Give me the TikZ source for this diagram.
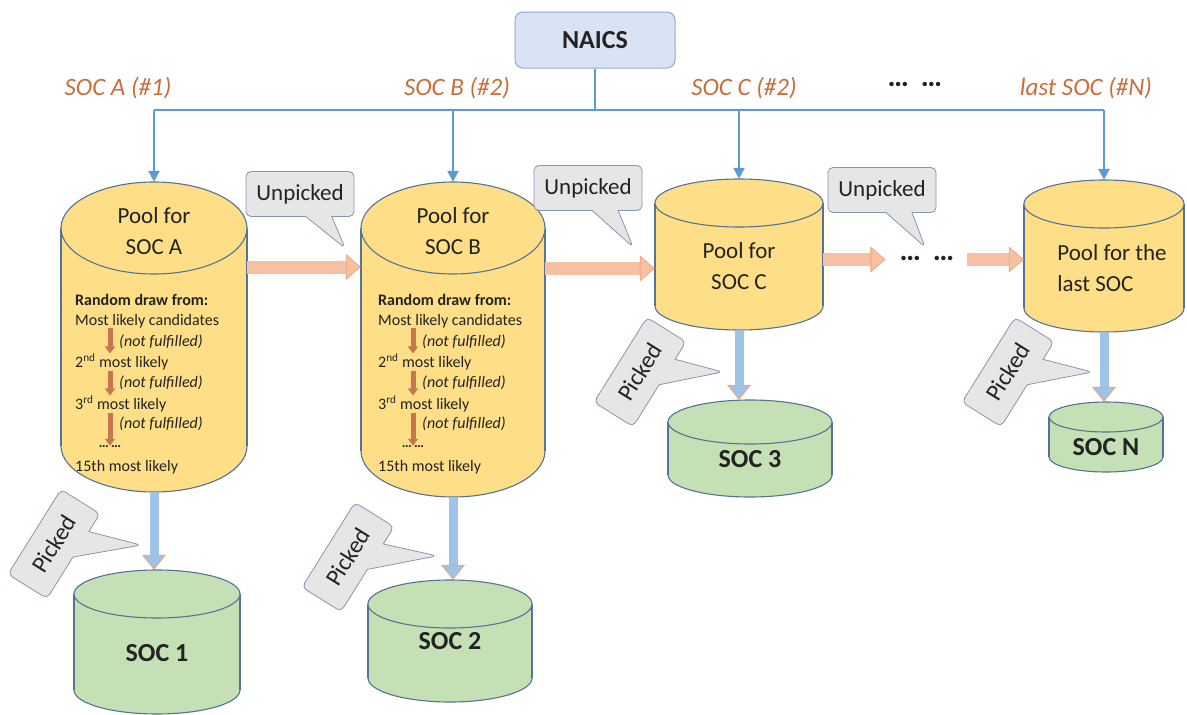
\documentclass[tikz,border=0pt]{standalone}
\usepackage{fontspec}
\setmainfont{Carlito}
\usetikzlibrary{arrows.meta,shapes.callouts}

\definecolor{busblue}{RGB}{91,155,213}
\definecolor{drumedge}{RGB}{84,115,150}
\definecolor{poolyellow}{RGB}{254,223,135}
\definecolor{socgreen}{RGB}{197,224,180}
\definecolor{calloutgray}{RGB}{231,230,230}
\definecolor{calloutedge}{RGB}{132,151,176}
\definecolor{naicsfill}{RGB}{218,227,243}
\definecolor{naicsedge}{RGB}{143,170,220}
\definecolor{peach}{RGB}{248,192,162}
\definecolor{peachedge}{RGB}{240,165,125}
\definecolor{pickblue}{RGB}{157,195,230}
\definecolor{socorange}{RGB}{200,110,60}
\definecolor{stepbrown}{RGB}{200,118,78}
\definecolor{textdark}{RGB}{35,35,35}

\tikzset{
  drumline/.style={draw=drumedge, line width=1.1pt},
  drumbox/.style={rectangle, inner sep=0pt},
  busline/.style={draw=busblue, line width=2.5pt},
  busarrow/.style={busline, -{Triangle[width=11pt, length=11pt]}},
  pickarrow/.style={line width=9pt, draw=pickblue,
    -{Triangle[width=24pt, length=15pt, line width=1pt, color=peachedge, fill=pickblue]}},
  unpickarrow/.style={line width=13pt, draw=peach,
    -{Triangle[width=26pt, length=15pt, line width=0.8pt, color=peachedge, fill=peach]}},
  steparrow/.style={line width=5pt, draw=stepbrown, -{Triangle[width=10pt, length=7pt]}},
  naicsbox/.style={rectangle, rounded corners=8pt, draw=naicsedge, fill=naicsfill, line width=1pt,
    minimum width=160pt, minimum height=56pt, font=\fontsize{26}{28}\selectfont\bfseries, text=textdark},
  soclabel/.style={font=\fontsize{25}{28}\selectfont\itshape, text=socorange},
  dotsline/.style={font=\fontsize{30}{30}\selectfont\bfseries, text=textdark, inner sep=0pt},
  pooltext/.style={font=\fontsize{23}{31}\selectfont, text=textdark, align=center},
  soctext/.style={font=\fontsize{26}{28}\selectfont\bfseries, text=textdark},
  listhead/.style={anchor=west, inner sep=0pt, font=\fontsize{16}{18}\selectfont\bfseries, text=textdark},
  listitem/.style={anchor=west, inner sep=0pt, font=\fontsize{16}{18}\selectfont, text=textdark},
  notmet/.style={anchor=west, inner sep=0pt, font=\fontsize{16}{18}\selectfont\itshape, text=textdark},
  callbox/.style={rectangle callout, draw=calloutedge, fill=calloutgray, line width=0.8pt,
    rounded corners=5pt, text=textdark},
  unpicked/.style={callbox, minimum width=108pt, minimum height=45pt, callout pointer width=26pt,
    font=\fontsize{23}{25}\selectfont},
  picked/.style={callbox, rotate=58, minimum width=100pt, minimum height=46pt, callout pointer width=30pt,
    font=\fontsize{24}{26}\selectfont}
}

% cylinder: name, centre x, top, bottom, half width, ellipse radius, fill
\newcommand{\drum}[7]{%
  \filldraw[drumline, fill=#7] (#2,{#4-#6}) ellipse[x radius=#5pt, y radius=#6pt];
  \fill[#7] ({#2-#5},{#3+#6}) rectangle ({#2+#5},{#4-#6});
  \draw[drumline] ({#2-#5},{#3+#6}) -- ({#2-#5},{#4-#6}) ({#2+#5},{#3+#6}) -- ({#2+#5},{#4-#6});
  \filldraw[drumline, fill=#7] (#2,{#3+#6}) ellipse[x radius=#5pt, y radius=#6pt];
  \node[drumbox, minimum width={2*#5pt}, minimum height={(#4-#3)*1pt}] (#1) at (#2,{(#3+#4)/2}) {};
}

% candidate list inside a pool: prefix, left x, arrow x
\newcommand{\drawlist}[3]{%
  \coordinate (#1ax) at (#3,0);
  \node[listhead] (#1l0) at (#2,300) {Random draw from:};
  \node[listitem] (#1l1) at (#2,321) {Most likely candidates};
  \node[listitem] (#1l2) at (#2,362) {2\textsuperscript{nd} most likely};
  \node[listitem] (#1l3) at (#2,404) {3\textsuperscript{rd} most likely};
  \node[listitem, anchor=center, font=\fontsize{14}{14}\selectfont\bfseries] (#1l4) at (#3,447) {…\,…};
  \node[listitem] (#1l5) at (#2,467) {15th most likely};
  \foreach \a/\b/\y in {1/2/342, 2/3/383, 3/4/424} {
    \draw[steparrow] (#1l\a.south -| #1ax) -- (#1l\b.north -| #1ax);
    \node[notmet] (#1n\a) at ({#3+9},\y) {(not fulfilled)};
  }
}

\begin{document}
\begin{tikzpicture}[x=1pt, y=-1pt]
  \useasboundingbox[fill=white] (0,0) rectangle (1187,715);

  % pools and picked sets
  \drum{poolA}{154}{182}{492}{93}{46}{poolyellow}
  \drum{poolB}{453}{182}{497}{92}{46}{poolyellow}
  \drum{poolC}{739}{179}{330}{84}{24}{poolyellow}
  \drum{poolN}{1104}{180}{332}{80}{24}{poolyellow}
  \drum{socA}{157}{570}{714}{83}{24}{socgreen}
  \drum{socB}{450}{580}{702}{82}{24}{socgreen}
  \drum{socC}{750}{400}{497}{82}{22}{socgreen}
  \drum{socN}{1106}{402}{472}{57}{15}{socgreen}

  \node[pooltext] (poolAtxt) at (154,231) {Pool for\\SOC A};
  \node[pooltext] (poolBtxt) at (453,231) {Pool for\\SOC B};
  \node[pooltext] (poolCtxt) at (739,266) {Pool for\\SOC C};
  \node[pooltext, align=left] (poolNtxt) at (1112,268) {Pool for the\\last SOC};

  \node[soctext] (socAtxt) at (157,653) {SOC 1};
  \node[soctext] (socBtxt) at (450,641) {SOC 2};
  \node[soctext] (socCtxt) at (750,459) {SOC 3};
  \node[soctext] (socNtxt) at (1106,447) {SOC N};

  \drawlist{A}{75}{110}
  \drawlist{B}{378}{413}

  % NAICS and the bus
  \node[naicsbox] (naics) at (595,40) {NAICS};
  \coordinate (bus) at (0,110);
  \draw[busline] (naics.south) -- (naics.south |- bus);
  \draw[busline] (poolA.north |- bus) -- (poolN.north |- bus);
  \foreach \p in {poolA,poolB,poolC,poolN}
    \draw[busarrow] (\p.north |- bus) -- (\p.north);

  \node[soclabel] (labA) at (118,88) {SOC A (\#1)};
  \node[soclabel] (labB) at (457,88) {SOC B (\#2)};
  \node[soclabel] (labC) at (744,88) {SOC C (\#2)};
  \node[dotsline] (labdots) at (915,84) {…\hspace{12pt}…};
  \node[soclabel] (labN) at (1086,88) {last SOC (\#N)};

  % unpicked flow
  \node[dotsline] (dots) at (927,258) {…\hspace{12pt}…};
  \coordinate (ua) at ([yshift=70pt]poolA.east);
  \coordinate (ub) at ([yshift=71pt]poolB.east);
  \coordinate (uc) at ([yshift=-5pt]poolC.east);
  \draw[unpickarrow] (ua) -- (ua -| poolB.west);
  \draw[unpickarrow] (ub) -- (ub -| poolC.west);
  \draw[unpickarrow] (uc) -- ([xshift=-14pt]uc -| dots.west);
  \draw[unpickarrow] ([xshift=12pt]dots.east |- uc) -- (uc -| poolN.west);

  % picked flow
  \draw[pickarrow] (poolA.south) -- (poolA.south |- socA.north);
  \draw[pickarrow] (poolB.south) -- (poolB.south |- socB.north);
  \draw[pickarrow] (poolC.south) -- (poolC.south |- socC.north);
  \draw[pickarrow] (poolN.south) -- (poolN.south |- socN.north);

  % callouts
  \node[unpicked, callout absolute pointer={(345,248)}] (unpA) at (300,194) {Unpicked};
  \node[unpicked, callout absolute pointer={(633,247)}] (unpB) at (588,188) {Unpicked};
  \node[unpicked, callout absolute pointer={(925,247)}] (unpC) at (882,190) {Unpicked};
  \node[picked, callout relative pointer={(31.2pt,-51.3pt)}] (pickA) at (54,544) {Picked};
  \node[picked, callout relative pointer={(33.3pt,-51.8pt)}] (pickB) at (348,557) {Picked};
  \node[picked, callout relative pointer={(29.4pt,-47pt)}] (pickC) at (640,372) {Picked};
  \node[picked, callout relative pointer={(30.2pt,-48.4pt)}] (pickN) at (1008,372) {Picked};
\end{tikzpicture}
\end{document}
